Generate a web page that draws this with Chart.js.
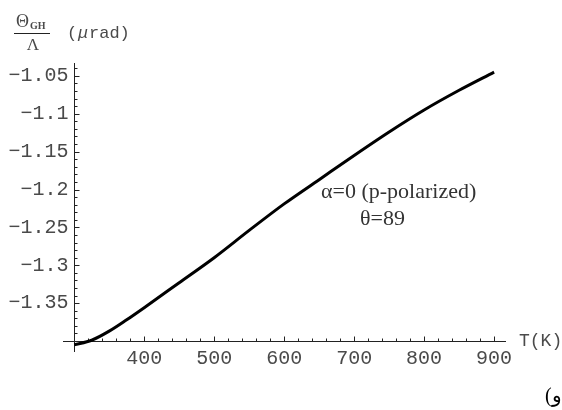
<!DOCTYPE html>
<html>
<head>
<meta charset="utf-8">
<script src="https://cdn.jsdelivr.net/npm/chart.js@4/dist/chart.umd.min.js"></script>
<style>
  html, body { margin: 0; padding: 0; background: #fff; }
  #wrap { width: 562px; height: 410px; }
</style>
</head>
<body>
<div id="wrap"><canvas id="chart" width="562" height="410"></canvas></div>
<script>
// temperature (K) and GH shift over Lambda (µrad)
const temps = [300, 325, 350, 375, 400, 450, 500, 550, 600, 650, 700, 750, 800, 850, 900];
const shift = [-1.405, -1.399, -1.387, -1.372, -1.356, -1.323, -1.290, -1.254, -1.219, -1.187, -1.155, -1.124, -1.095, -1.069, -1.045];

const xTicks = [400, 500, 600, 700, 800, 900];
const yTicks = [-1.05, -1.1, -1.15, -1.2, -1.25, -1.3, -1.35];
const xMinorStep = 20;
const yMinorStep = 0.01;
const xOrigin = 300;
const yOrigin = -1.4;

const axisColor = '#222';
const labelColor = '#4a4a4a';
const monoFont = '"Liberation Mono", "DejaVu Sans Mono", monospace';
const serifFont = '"Liberation Serif", "DejaVu Serif", serif';

// Mathematica style axes crossing at (300, -1.4)
const axesPlugin = {
    id: 'axes',
    beforeDatasetsDraw(chart) {
        const ctx = chart.ctx;
        const xs = chart.scales.x;
        const ys = chart.scales.y;
        const area = chart.chartArea;
        const ox = Math.round(xs.getPixelForValue(xOrigin)) + 0.5;
        const oy = Math.round(ys.getPixelForValue(yOrigin)) + 0.5;

        ctx.save();
        ctx.strokeStyle = axisColor;
        ctx.lineWidth = 1;
        ctx.beginPath();
        ctx.moveTo(area.left, oy);
        ctx.lineTo(area.right, oy);
        ctx.moveTo(ox, area.top);
        ctx.lineTo(ox, area.bottom);
        ctx.stroke();

        // x ticks
        ctx.beginPath();
        for (let v = xOrigin + xMinorStep; v <= xs.max; v += xMinorStep) {
            const px = Math.round(xs.getPixelForValue(v)) + 0.5;
            const major = xTicks.includes(v);
            ctx.moveTo(px, oy);
            ctx.lineTo(px, oy - (major ? 5 : 3));
        }
        // y ticks
        for (let i = 1; ; i++) {
            const v = yOrigin + i * yMinorStep;
            if (v > ys.max) break;
            const py = Math.round(ys.getPixelForValue(v)) + 0.5;
            const major = yTicks.some(t => Math.abs(t - v) < 1e-6);
            ctx.moveTo(ox, py);
            ctx.lineTo(ox + (major ? 5 : 3), py);
        }
        ctx.stroke();

        // tick labels
        ctx.fillStyle = labelColor;
        ctx.font = '20px ' + monoFont;
        ctx.textAlign = 'center';
        ctx.textBaseline = 'middle';
        xTicks.forEach(v => {
            ctx.fillText(String(v), xs.getPixelForValue(v), oy + 17);
        });
        ctx.textAlign = 'right';
        yTicks.forEach(v => {
            ctx.fillText(String(v).replace('-', '\u2212'), ox - 6, ys.getPixelForValue(v));
        });

        // axis titles
        ctx.textAlign = 'left';
        ctx.font = '18px ' + monoFont;
        ctx.fillText('T(K)', 519, oy);

        ctx.font = '18px ' + serifFont;
        ctx.fillText('\u0398', 16, 22);
        ctx.font = 'bold 10px ' + serifFont;
        ctx.fillText('GH', 30, 26);
        ctx.beginPath();
        ctx.moveTo(14, 33.5);
        ctx.lineTo(50, 33.5);
        ctx.stroke();
        ctx.font = '17px ' + serifFont;
        ctx.textAlign = 'center';
        ctx.fillText('\u039B', 33, 46);
        ctx.textAlign = 'left';
        ctx.font = '17px ' + monoFont;
        ctx.fillText('(', 67, 33);
        ctx.font = 'italic 17px ' + monoFont;
        ctx.fillText('\u03BC', 78, 33);
        ctx.font = '17px ' + monoFont;
        ctx.fillText('rad)', 89, 33);

        // annotation
        ctx.fillStyle = '#333';
        ctx.font = '22px ' + serifFont;
        ctx.fillText('\u03B1=0 (p-polarized)', 321, 192);
        ctx.fillText('\u03B8=89', 360, 219);

        ctx.fillStyle = '#000';
        ctx.font = '20px ' + serifFont;
        ctx.fillText('(\u0648', 545, 397);
        ctx.restore();
    }
};

new Chart(document.getElementById('chart'), {
    type: 'line',
    data: {
        datasets: [{
            data: temps.map((t, i) => ({ x: t, y: shift[i] })),
            borderColor: '#000',
            borderWidth: 3,
            pointRadius: 0,
            cubicInterpolationMode: 'monotone',
            fill: false
        }]
    },
    options: {
        responsive: false,
        animation: false,
        layout: { padding: { left: 63, right: 56, top: 63, bottom: 58 } },
        plugins: { legend: { display: false }, tooltip: { enabled: false } },
        scales: {
            x: { type: 'linear', min: 284, max: 917, display: false },
            y: { type: 'linear', min: -1.4145, max: -1.033, display: false }
        }
    },
    plugins: [axesPlugin]
});
</script>
</body>
</html>
